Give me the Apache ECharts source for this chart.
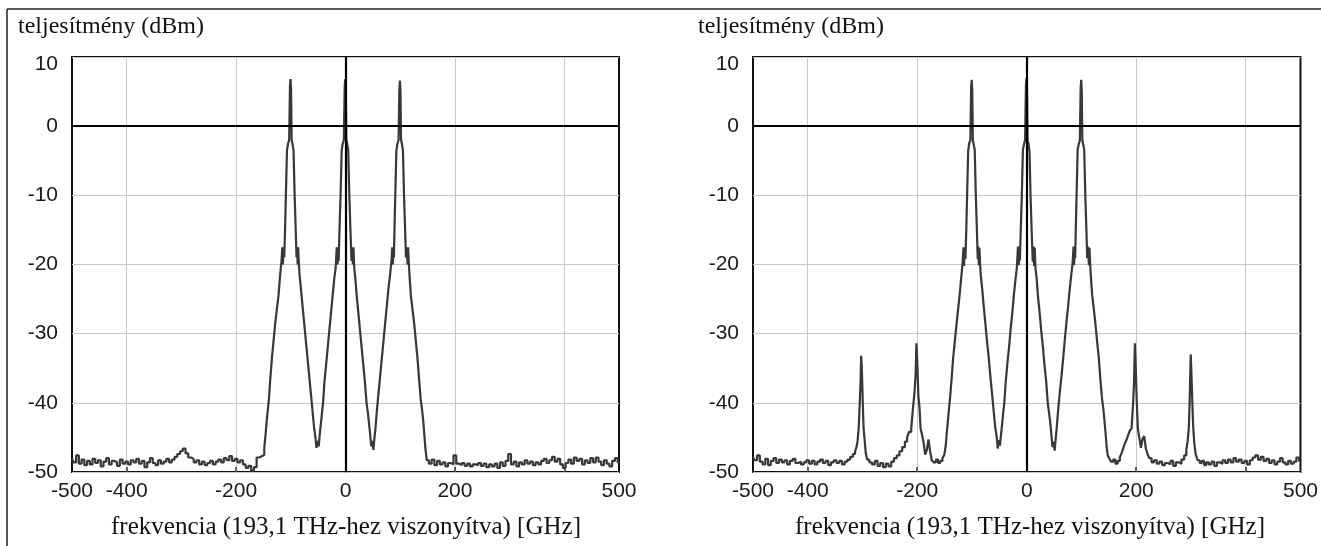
<!DOCTYPE html>
<html><head><meta charset="utf-8">
<script src="https://cdn.jsdelivr.net/npm/echarts@6/dist/echarts.min.js"></script>
<style>html,body{margin:0;padding:0;background:#fff}#c{width:1321px;height:546px}</style>
</head><body><div id="c"></div>
<script>
// ---------- data ----------
const yTitle = 'teljesítmény (dBm)';
const xTitle = 'frekvencia (193,1 THz-hez viszonyítva) [GHz]';
const xLabelValues = [-500, -400, -200, 0, 200, 500];
const xGridValues = [-400, -200, 0, 200, 400];
const yTicks = [-50, -40, -30, -20, -10, 0, 10];

// Left panel: [frequency GHz, power dBm]
const floorLeftA = [[-500,-48.0],[-495,-48.6],[-490,-47.6],[-485,-48.8],[-480,-48.2],[-475,-49.0],[-470,-48.4],[-465,-48.9],[-460,-48.1],[-455,-48.7],[-450,-48.3],[-445,-49.2],[-440,-48.5],[-435,-48.0],[-430,-48.9],[-425,-48.4],[-420,-48.6],[-415,-49.1],[-410,-48.2],[-405,-48.8],[-400,-48.5],[-395,-48.9],[-390,-48.3],[-385,-48.6],[-380,-48.1],[-375,-48.8],[-370,-48.4],[-365,-49.3],[-360,-48.6],[-355,-48.0],[-350,-48.7],[-345,-49.0],[-340,-48.3],[-335,-48.8],[-330,-48.5],[-325,-48.1],[-320,-48.6],[-315,-48.2],[-310,-47.8],[-305,-47.4],[-300,-47.0],[-295,-46.6],[-290,-47.3],[-285,-47.9],[-280,-48.1],[-275,-48.6],[-270,-48.3],[-265,-48.9],[-260,-48.5],[-255,-49.0],[-250,-48.7],[-245,-48.4],[-240,-48.9],[-235,-48.5],[-230,-48.2],[-225,-48.6],[-220,-48.0],[-215,-48.3],[-210,-47.7],[-205,-48.4],[-200,-48.1],[-195,-48.6],[-190,-48.3],[-185,-48.9],[-180,-49.4],[-175,-49.1],[-170,-49.8],[-165,-49.3],[-160,-47.9],[-155,-47.7]];
const peaksA = [[-150,-47.5],[-147,-46.5],[-145,-44.5],[-143,-42.5],[-141,-41.0],[-139,-39.5],[-136,-36.5],[-133,-33.5],[-130,-31.0],[-127,-28.5],[-124,-26.5],[-121,-24.5],[-118,-21.5],[-116,-19.5],[-115,-17.5],[-114,-20.0],[-113,-17.5],[-111,-19.0],[-110,-15.0],[-108,-10.0],[-106,-3.5],[-104,-2.5],[-102,-2.0],[-101,5.8],[-100,6.8],[-99,5.2],[-98,-2.0],[-96,-2.5],[-94,-3.5],[-92,-10.0],[-90,-15.0],[-89,-19.0],[-88,-17.5],[-87,-20.0],[-86,-17.5],[-85,-19.5],[-83,-21.5],[-80,-23.5],[-77,-26.0],[-74,-28.5],[-71,-31.0],[-68,-33.5],[-65,-36.0],[-62,-38.5],[-59,-41.0],[-56,-43.5],[-54,-45.0],[-52,-46.5],[-50,-45.5],[-48,-46.3],[-46,-44.5],[-44,-43.0],[-42,-41.5],[-40,-40.0],[-37,-37.0],[-34,-34.5],[-31,-32.0],[-28,-29.5],[-25,-27.0],[-22,-24.5],[-19,-22.0],[-17,-20.5],[-15,-17.5],[-14,-20.0],[-13,-17.5],[-12,-19.5],[-10,-15.0],[-8,-10.0],[-6,-3.5],[-4,-2.5],[-2,-2.0],[-1,5.6],[0,6.8],[1,5.0],[2,-2.0],[4,-2.5],[6,-3.5],[8,-10.0],[10,-15.0],[12,-19.5],[13,-17.5],[14,-20.0],[15,-17.5],[17,-20.5],[19,-22.0],[22,-24.5],[25,-27.0],[28,-29.5],[31,-32.0],[34,-34.5],[37,-37.0],[40,-40.0],[42,-41.5],[44,-43.0],[46,-44.5],[48,-46.3],[50,-45.5],[52,-46.8],[54,-45.0],[56,-43.5],[59,-41.0],[62,-38.5],[65,-36.0],[68,-33.5],[71,-31.0],[74,-28.5],[77,-26.0],[80,-23.5],[83,-21.5],[85,-19.5],[86,-17.5],[87,-20.0],[88,-17.5],[89,-19.0],[90,-15.0],[92,-10.0],[94,-3.5],[96,-2.5],[98,-2.0],[99,5.4],[100,6.6],[101,5.0],[102,-2.0],[104,-2.5],[106,-3.5],[108,-10.0],[110,-15.0],[111,-19.0],[113,-17.5],[114,-20.0],[115,-17.5],[116,-19.5],[118,-21.5],[121,-24.5],[124,-26.5],[127,-28.5],[130,-31.0],[133,-33.5],[136,-36.5],[139,-39.5],[141,-41.0],[143,-42.5],[145,-44.5],[147,-46.5],[150,-48.3]];
const floorRightA = [[155,-48.8],[160,-48.2],[165,-49.0],[170,-48.4],[175,-48.9],[180,-48.6],[185,-49.2],[190,-48.7],[195,-48.9],[200,-47.6],[205,-48.8],[210,-49.0],[215,-48.7],[220,-49.1],[225,-48.8],[230,-49.2],[235,-48.9],[240,-49.0],[245,-48.7],[250,-49.1],[255,-48.8],[260,-49.3],[265,-48.9],[270,-49.2],[275,-48.8],[280,-49.4],[285,-48.6],[290,-49.1],[295,-48.4],[300,-47.4],[305,-48.9],[310,-48.5],[315,-49.2],[320,-48.6],[325,-48.9],[330,-48.3],[335,-48.8],[340,-48.5],[345,-49.0],[350,-48.6],[355,-48.9],[360,-48.4],[365,-48.1],[370,-48.7],[375,-48.3],[380,-47.8],[385,-48.5],[390,-48.1],[395,-48.9],[400,-49.4],[405,-48.7],[410,-48.2],[415,-48.8],[420,-47.9],[425,-48.4],[430,-48.1],[435,-48.9],[440,-48.3],[445,-48.7],[450,-48.0],[455,-48.6],[460,-47.9],[465,-48.5],[470,-49.0],[475,-48.3],[480,-48.8],[485,-49.2],[490,-48.4],[495,-48.0],[500,-48.6]];

// Right panel: [frequency GHz, power dBm]
const outerLeftB = [[-500,-47.8],[-495,-48.3],[-490,-47.6],[-485,-48.5],[-480,-48.9],[-475,-48.1],[-470,-49.0],[-465,-48.4],[-460,-48.0],[-455,-48.7],[-450,-48.2],[-445,-48.6],[-440,-48.3],[-435,-48.9],[-430,-48.4],[-425,-48.1],[-420,-48.7],[-415,-48.5],[-410,-48.9],[-405,-48.6],[-400,-48.3],[-395,-48.8],[-390,-48.4],[-385,-48.9],[-380,-48.5],[-375,-48.2],[-370,-48.7],[-365,-48.4],[-360,-49.0],[-355,-48.6],[-350,-48.3],[-345,-48.7],[-340,-48.4],[-335,-48.9],[-330,-48.5],[-325,-48.2],[-320,-47.8],[-315,-47.4],[-312,-47.0],[-310,-46.4],[-308,-45.5],[-306,-43.7],[-304,-40.0],[-303,-37.0],[-302,-33.2],[-301,-34.5],[-300,-37.0],[-299,-40.0],[-297,-43.7],[-295,-45.5],[-293,-47.3],[-290,-48.2],[-285,-48.6],[-280,-48.9],[-275,-48.4],[-270,-49.1],[-265,-48.7],[-260,-49.3],[-255,-48.8],[-250,-49.2],[-245,-48.5],[-240,-48.0],[-235,-47.6],[-230,-47.0],[-225,-46.4],[-220,-45.6],[-217,-45.0],[-213,-44.2],[-209,-43.7],[-206,-40.5],[-204,-38.5],[-202,-36.0],[-201,-31.4],[-200,-33.0],[-199,-35.0],[-197,-39.0],[-195,-40.5],[-193,-43.7],[-190,-44.5],[-187,-45.7],[-184,-47.5],[-181,-46.8],[-178,-45.3],[-175,-47.0],[-172,-48.3],[-168,-48.6],[-164,-48.2],[-160,-48.7],[-156,-48.4],[-152,-48.0]];
const peaksB = [[-149,-47.5],[-147,-46.2],[-145,-44.3],[-143,-42.6],[-141,-40.8],[-139,-39.2],[-136,-36.8],[-133,-33.6],[-130,-31.2],[-127,-28.8],[-124,-26.6],[-121,-24.3],[-118,-21.8],[-116,-19.6],[-115,-17.5],[-114,-20.2],[-113,-17.6],[-111,-19.2],[-110,-15.2],[-108,-10.2],[-106,-3.6],[-104,-2.4],[-102,-2.1],[-101,5.7],[-100,6.7],[-99,5.1],[-98,-2.0],[-96,-2.6],[-94,-3.4],[-92,-10.1],[-90,-15.1],[-89,-19.2],[-88,-17.4],[-87,-20.1],[-86,-17.6],[-85,-19.4],[-83,-21.6],[-80,-23.4],[-77,-26.1],[-74,-28.6],[-71,-31.2],[-68,-33.4],[-65,-36.1],[-62,-38.6],[-59,-41.1],[-56,-43.6],[-54,-44.8],[-52,-46.6],[-50,-45.4],[-48,-46.2],[-46,-44.6],[-44,-43.1],[-42,-41.4],[-40,-40.1],[-37,-37.1],[-34,-34.4],[-31,-32.1],[-28,-29.4],[-25,-27.1],[-22,-24.4],[-19,-22.1],[-17,-20.4],[-15,-17.4],[-14,-20.1],[-13,-17.6],[-12,-19.4],[-10,-15.1],[-8,-10.1],[-6,-3.4],[-4,-2.6],[-2,-2.0],[-1,5.8],[0,6.9],[1,5.2],[2,-2.1],[4,-2.4],[6,-3.6],[8,-10.2],[10,-15.2],[12,-19.6],[13,-17.4],[14,-20.2],[15,-17.6],[17,-20.6],[19,-21.9],[22,-24.6],[25,-26.9],[28,-29.6],[31,-31.9],[34,-34.6],[37,-36.9],[40,-40.1],[42,-41.6],[44,-42.9],[46,-44.6],[48,-46.4],[50,-45.6],[52,-46.9],[54,-45.1],[56,-43.4],[59,-40.9],[62,-38.4],[65,-36.1],[68,-33.6],[71,-30.9],[74,-28.4],[77,-26.1],[80,-23.6],[83,-21.4],[85,-19.6],[86,-17.4],[87,-20.1],[88,-17.6],[89,-19.1],[90,-15.1],[92,-10.1],[94,-3.4],[96,-2.6],[98,-2.1],[99,5.6],[100,6.7],[101,5.0],[102,-2.0],[104,-2.6],[106,-3.4],[108,-10.1],[110,-15.1],[111,-19.1],[113,-17.4],[114,-20.1],[115,-17.6],[116,-19.4],[118,-21.6],[121,-24.4],[124,-26.4],[127,-28.6],[130,-31.1],[133,-33.4],[136,-36.6],[139,-39.4],[141,-40.9],[143,-42.6],[145,-44.4],[147,-46.4],[149,-47.6]];
const outerRightB = [[152,-48.0],[156,-48.5],[160,-48.2],[164,-48.8],[168,-48.4],[172,-47.9],[175,-47.2],[178,-46.5],[181,-45.8],[184,-45.3],[187,-44.6],[190,-44.0],[193,-43.7],[195,-40.5],[197,-37.0],[198,-31.4],[199,-33.5],[200,-36.0],[202,-40.0],[204,-43.7],[207,-45.0],[210,-46.5],[213,-45.2],[216,-44.8],[219,-46.6],[222,-47.4],[226,-48.0],[230,-48.6],[235,-48.3],[240,-48.8],[245,-48.5],[250,-49.0],[255,-48.7],[260,-48.9],[265,-48.4],[270,-49.1],[275,-48.6],[280,-48.8],[285,-48.2],[290,-47.6],[293,-46.8],[295,-45.5],[297,-43.7],[298,-40.0],[299,-36.5],[300,-33.0],[301,-35.0],[302,-37.5],[303,-40.0],[305,-43.5],[307,-45.8],[310,-47.4],[314,-48.3],[318,-48.7],[322,-48.4],[326,-49.0],[330,-48.6],[335,-48.9],[340,-48.5],[345,-49.1],[350,-48.6],[355,-48.8],[360,-48.3],[365,-48.7],[370,-48.2],[375,-48.6],[380,-48.0],[385,-48.5],[390,-48.2],[395,-48.7],[400,-48.4],[405,-48.9],[410,-48.3],[415,-47.9],[420,-47.6],[425,-48.2],[430,-47.8],[435,-48.4],[440,-48.1],[445,-48.7],[450,-48.3],[455,-48.9],[460,-48.5],[465,-48.0],[470,-48.6],[475,-48.9],[480,-48.4],[485,-48.8],[490,-48.5],[495,-47.9],[500,-48.4]];

const spectrumA = floorLeftA.concat(peaksA, floorRightA);
const spectrumB = outerLeftB.concat(peaksB, outerRightB);

// ---------- chart ----------
const chart = echarts.init(document.getElementById('c'), null, {renderer: 'canvas'});
const tickFont = {fontFamily: 'Liberation Sans', fontSize: 21, color: '#1a1a1a'};
const serif = 'Liberation Serif';

function xAxisDef(gi) {
  return {
    type: 'value', gridIndex: gi, min: -500, max: 500, interval: 100,
    axisLine: {show: false, onZero: false},
    axisTick: {show: true, inside: true, length: 5, customValues: xGridValues, lineStyle: {color: '#333', width: 1.5}},
    axisLabel: Object.assign({customValues: xLabelValues, margin: 9}, tickFont),
    splitLine: {show: true, lineStyle: {color: '#c8c8c8', width: 1}}
  };
}
function yAxisDef(gi) {
  return {
    type: 'value', gridIndex: gi, min: -50, max: 10, interval: 10,
    axisLine: {show: false, onZero: false}, axisTick: {show: false},
    axisLabel: Object.assign({
      margin: 14,
      formatter: function (v) { return v === yTicks[yTicks.length - 1] ? '{t|' + v + '}' : String(v); },
      rich: {t: Object.assign({padding: [14, 0, 0, 0]}, tickFont)}
    }, tickFont),
    splitLine: {show: true, lineStyle: {color: '#c8c8c8', width: 1}}
  };
}
function seriesDef(gi, data) {
  return {
    type: 'line', xAxisIndex: gi, yAxisIndex: gi, data: data, step: 'middle',
    showSymbol: false, symbol: 'none', silent: true, animation: false,
    lineStyle: {color: '#383838', width: 2.2},
    markLine: {
      silent: true, symbol: 'none', animation: false, label: {show: false},
      lineStyle: {color: '#000', width: 2.2, type: 'solid'},
      data: [{xAxis: 0}, {yAxis: 0}]
    }
  };
}

chart.setOption({
  animation: false,
  backgroundColor: '#fff',
  grid: [
    {left: 72, top: 57, width: 547, height: 415, show: true, borderColor: '#111', borderWidth: 2, backgroundColor: '#fff'},
    {left: 753, top: 57, width: 548, height: 415, show: true, borderColor: '#111', borderWidth: 2, backgroundColor: '#fff'}
  ],
  xAxis: [xAxisDef(0), xAxisDef(1)],
  yAxis: [yAxisDef(0), yAxisDef(1)],
  series: [seriesDef(0, spectrumA), seriesDef(1, spectrumB)],
  graphic: [
    {type: 'line', shape: {x1: 7, y1: 9, x2: 1321, y2: 9}, style: {stroke: '#222', lineWidth: 1.5}},
    {type: 'line', shape: {x1: 7, y1: 9, x2: 7, y2: 546}, style: {stroke: '#222', lineWidth: 1.5}},
    {type: 'text', left: 18, top: 15, style: {text: yTitle, font: '24px ' + serif, fill: '#111'}},
    {type: 'text', left: 698, top: 15, style: {text: yTitle, font: '24px ' + serif, fill: '#111'}},
    {type: 'text', x: 346, y: 527, style: {text: xTitle, font: '25px ' + serif, fill: '#111', align: 'center', verticalAlign: 'middle'}},
    {type: 'text', x: 1030, y: 527, style: {text: xTitle, font: '25px ' + serif, fill: '#111', align: 'center', verticalAlign: 'middle'}}
  ]
});
</script>
</body></html>
